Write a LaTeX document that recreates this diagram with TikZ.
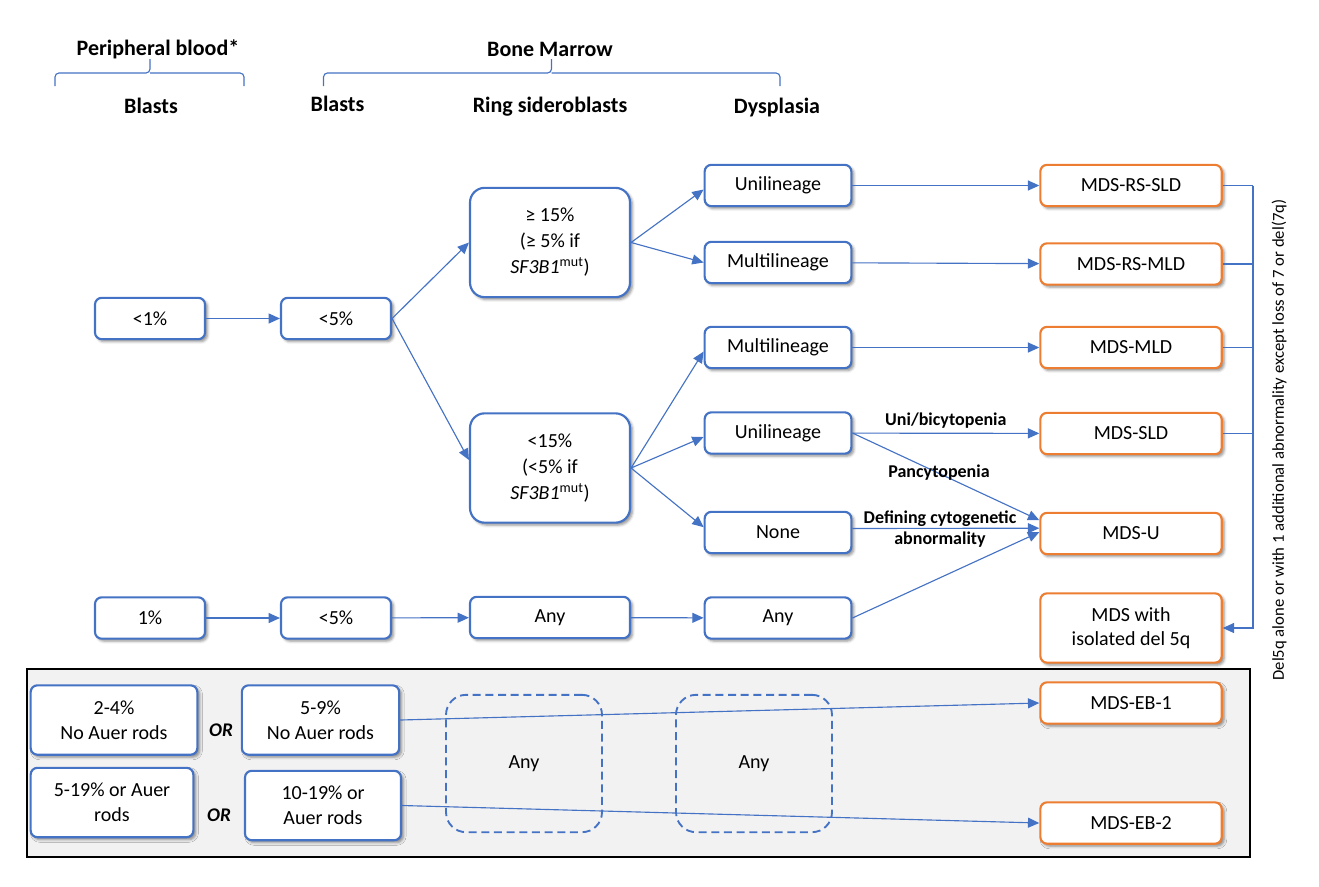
\documentclass[tikz,border=0pt]{standalone}
\usepackage{fontspec}
\setmainfont{Carlito}
\usepackage{tikz}
\usetikzlibrary{arrows.meta, positioning, calc, shadows.blur}
\definecolor{boxblue}  {RGB}{68, 114, 196}
\definecolor{resorange}{RGB}{237,125,  49}
\definecolor{panelgray}{RGB}{242,242, 242}

\tikzset{
	txt/.style={font=\fontsize{15}{18.5}\selectfont},
	box/.style={txt, draw=boxblue, line width=1.6pt, rounded corners=5pt, fill=white,
		align=center, inner sep=2pt, minimum height=31pt,
		blur shadow={shadow xshift=1.8pt, shadow yshift=-1.8pt, shadow blur radius=2pt, shadow opacity=45}},
	bigbox/.style={box, font=\fontsize{15}{19.5}\selectfont, rounded corners=11pt,
		minimum width=120pt, minimum height=82pt},
	resbox/.style={box, draw=resorange, minimum width=136pt},
	anybox/.style={txt, draw=boxblue, line width=1.4pt, dash pattern=on 6pt off 3.5pt,
		rounded corners=15pt, minimum width=117pt, minimum height=103pt},
	hdr/.style={font=\fontsize{16.5}{19}\selectfont\bfseries},
	lbl/.style={font=\fontsize{13.5}{16}\selectfont\bfseries, align=center},
	orlbl/.style={font=\fontsize{14.5}{17}\selectfont\bfseries\itshape},
	line/.style={draw=boxblue, line width=0.85pt},
	arr/.style={line, -{Triangle[length=8.5pt,width=7.5pt]}}
}

\begin{document}
\begin{tikzpicture}[x=0.75pt,y=-0.75pt]
\useasboundingbox (0,0) rectangle (1319,886);

% headers
\node[hdr] (pbhead) at (158,49) {Peripheral blood*};
\node[hdr] (bmhead) at (550,49) {Bone Marrow};
\draw[line,rounded corners=3pt] (55,86) |- (150,73) -- (150,59);
\draw[line,rounded corners=3pt] (150,73) -| (244,86);
\draw[line,rounded corners=3pt] (323.5,86) |- (551.5,73) -- (551.5,59);
\draw[line,rounded corners=3pt] (551.5,73) -| (780,86);
\node[hdr] (pbblast) at (151,106) {Blasts};
\node[hdr] (bmblast) at (337.5,104) {Blasts};
\node[hdr] (rshead)  at (550,107) {Ring sideroblasts};
\node[hdr] (dyshead) at (777,108) {Dysplasia};

% bottom panel
\draw[black, line width=1.6pt, fill=panelgray] (27,669) rectangle (1250,857);

% blast boxes
\node[box, minimum width=82.5pt] (pb1) at (150,318.5) {<1\%};
\node[box, minimum width=82.5pt] (bm1) at (336,318.5) {<5\%};
\node[box, minimum width=82.5pt] (pb2) at (150,618) {1\%};
\node[box, minimum width=82.5pt] (bm2) at (336,618) {<5\%};

% ring sideroblasts
\node[bigbox] (rs1) at (550,242.5) {≥ 15\%\\(≥ 5\% if\\\textit{SF3B1}\textsuperscript{mut})};
\node[bigbox] (rs2) at (550,468) {<15\%\\(<5\% if\\\textit{SF3B1}\textsuperscript{mut})};
\node[box, minimum width=120pt] (rs3) at (550,617.5) {Any};

% dysplasia
\node[box, minimum width=110pt] (dy1) at (778,185.5) {Unilineage};
\node[box, minimum width=110pt] (dy2) at (778,262.5) {Multilineage};
\node[box, minimum width=110pt] (dy3) at (778,347.5) {Multilineage};
\node[box, minimum width=110pt] (dy4) at (778,433) {Unilineage};
\node[box, minimum width=110pt] (dy5) at (778,532.5) {None};
\node[box, minimum width=110pt] (dy6) at (778,618) {Any};

% categories
\node[resbox] (rssld) at (1131,185.5) {MDS-RS-SLD};
\node[resbox] (rsmld) at (1131,264) {MDS-RS-MLD};
\node[resbox] (mld)   at (1131,347.5) {MDS-MLD};
\node[resbox] (sld)   at (1131,433.5) {MDS-SLD};
\node[resbox] (mdsu)  at (1131,533.5) {MDS-U};
\node[resbox, minimum height=52pt] (del5q) at (1131,628) {MDS with\\isolated del 5q};
\node[resbox] (eb1)   at (1131,703) {MDS-EB-1};
\node[resbox] (eb2)   at (1131,823) {MDS-EB-2};

% excess blasts
\node[box, minimum width=125pt, minimum height=52pt] (pb3) at (114,720) {2-4\%\\No Auer rods};
\node[box, minimum width=122pt, minimum height=52pt] (pb4) at (112,802.5) {5-19\% or Auer\\rods};
\node[orlbl] (or1) at (221,730) {OR};
\node[orlbl] (or2) at (219,815) {OR};
\node[box, minimum width=118pt, minimum height=52pt] (bm3) at (320.5,720) {5-9\%\\No Auer rods};
\node[box, minimum width=117pt, minimum height=52pt] (bm4) at (323,805.5) {10-19\% or\\Auer rods};
\node[anybox] (rs4) at (524,763.5) {Any};
\node[anybox] (dy7) at (754,763.5) {Any};

% connectors
\draw[arr] (pb1) -- (bm1);
\draw[arr] (bm1.east) -- (rs1.west);
\draw[arr] (bm1.east) -- ([yshift=6pt]rs2.west);
\draw[arr] (rs1.east) -- ([yshift=-3pt]dy1.west);
\draw[arr] (rs1.east) -- (dy2.west);
\draw[arr] (rs2.east) -- ([yshift=-3pt]dy3.west);
\draw[arr] (rs2.east) -- ([yshift=-3pt]dy4.west);
\draw[arr] (rs2.east) -- ([yshift=4pt]dy5.west);
\draw[arr] (dy1) -- (rssld);
\draw[arr] (dy2) -- (rsmld);
\draw[arr] (dy3) -- (mld);
\draw[arr] (dy4) -- node[lbl, above] {Uni/bicytopenia} (sld);
\draw[arr] (dy4.east) -- ([yshift=10pt]mdsu.west);
\node[lbl] (pancy) at (939,473) {Pancytopenia};
\draw[arr] ([yshift=3pt]dy5.east) -- ([yshift=4pt]mdsu.west);
\node[lbl] (defcyt) at (940,529) {Defining cytogenetic\\abnormality};
\draw[arr] (dy6.east) -- ([yshift=1pt]mdsu.west);
\draw[arr] (pb2) -- (bm2);
\draw[arr] (bm2) -- (rs3);
\draw[arr] (rs3) -- (dy6);
\draw[arr] (bm3.east) -- (eb1.west);
\draw[arr] (bm4.east) -- (eb2.west);

% del 5q bracket
\coordinate (bar) at (1253,0);
\draw[line] (rssld.east) -- (rssld.east -| bar);
\draw[line] (rsmld.east) -- (rsmld.east -| bar);
\draw[line] (mld.east) -- (mld.east -| bar);
\draw[line] (sld.east) -- (sld.east -| bar);
\draw[arr] (rssld.east -| bar) -- (del5q.east -| bar) -- (del5q.east);
\node[font=\fontsize{12.5}{15}\selectfont, rotate=90] (note) at (1279,440)
	{Del5q alone or with 1 additional abnormality except loss of 7 or del(7q)};
\end{tikzpicture}
\end{document}
